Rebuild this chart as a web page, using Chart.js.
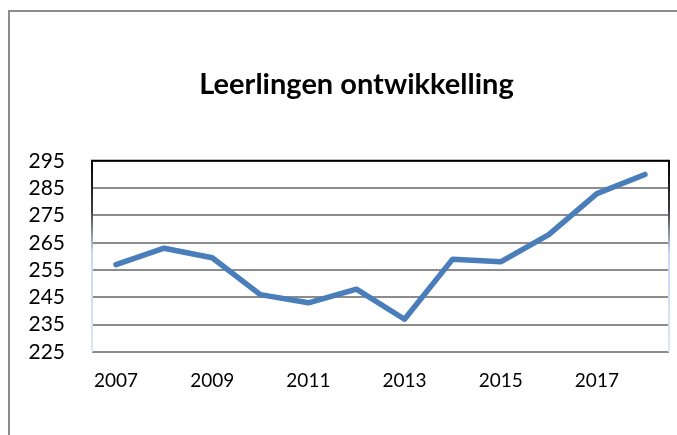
<!DOCTYPE html>
<html>
<head>
<meta charset="utf-8">
<script src="https://cdn.jsdelivr.net/npm/chart.js@4"></script>
<style>
    body { margin: 0; background: #fff; }
    #wrap { position: relative; width: 677px; height: 435px; }
    #frame { position: absolute; left: 8px; top: 10px; right: -10px; bottom: -10px;
             border-left: 2px solid #8c8c8c; border-top: 2px solid #8c8c8c; pointer-events: none; }
</style>
</head>
<body>
<div id="wrap">
    <canvas id="chart"></canvas>
    <div id="frame"></div>
</div>
<script>
// Chart data
const years = ["2007", "2008", "2009", "2010", "2011", "2012", "2013", "2014", "2015", "2016", "2017", "2018"];
const leerlingen = [257, 263, 259.5, 246, 243, 248, 237, 259, 258, 268, 283, 290];
const yMin = 225;
const yMax = 295;
const yStep = 10;

// Plot area border: black top, faded sides like the Excel original
const plotBorder = {
    id: "plotBorder",
    afterLayout(chart) {
        // title sits a bit right of the canvas centre in the original
        if (chart.titleBlock) chart.titleBlock.left += 44;
    },
    beforeDatasetsDraw(chart) {
        const { ctx, chartArea: a } = chart;
        ctx.save();
        ctx.lineWidth = 2;
        const grad = ctx.createLinearGradient(0, a.top, 0, a.bottom);
        grad.addColorStop(0, "#000000");
        grad.addColorStop(0.25, "#3a3a3a");
        grad.addColorStop(0.48, "#c6d9f1");
        grad.addColorStop(1, "#dce6f2");
        ctx.strokeStyle = grad;
        ctx.beginPath();
        ctx.moveTo(a.left, a.top);
        ctx.lineTo(a.left, a.bottom);
        ctx.moveTo(a.right, a.top);
        ctx.lineTo(a.right, a.bottom);
        ctx.stroke();
        ctx.strokeStyle = "#000000";
        ctx.beginPath();
        ctx.moveTo(a.left - 1, a.top);
        ctx.lineTo(a.right + 1, a.top);
        ctx.stroke();
        ctx.restore();
    }
};

const ctx = document.getElementById("chart").getContext("2d");
new Chart(ctx, {
    type: "line",
    data: {
        labels: years,
        datasets: [{
            label: "Leerlingen",
            data: leerlingen,
            borderColor: "#4a7ebb",
            borderWidth: 5.5,
            borderCapStyle: "round",
            borderJoinStyle: "round",
            pointRadius: 0,
            tension: 0,
            fill: false
        }]
    },
    options: {
        responsive: true,
        maintainAspectRatio: false,
        animation: false,
        layout: { padding: { left: 0, right: 8, top: 0, bottom: 0 } },
        plugins: {
            legend: { display: false },
            tooltip: { enabled: false },
            title: {
                display: true,
                text: "Leerlingen ontwikkelling",
                color: "#000",
                font: { family: "Lato", size: 29, weight: "bold" },
                padding: { top: 67, bottom: 59 }
            }
        },
        scales: {
            x: {
                offset: true,
                grid: { display: false, drawTicks: false },
                border: { display: false },
                ticks: {
                    autoSkip: false,
                    maxRotation: 0,
                    padding: 17,
                    color: "#000",
                    font: { family: "Lato", size: 19 },
                    callback: function(value, index) {
                        return index % 2 === 0 ? this.getLabelForValue(value) : "";
                    }
                },
                afterFit: function(scale) { scale.height = 83; }
            },
            y: {
                min: yMin,
                max: yMax,
                grid: { color: "#8c8c8c", lineWidth: 2, drawTicks: false },
                border: { display: false },
                ticks: {
                    stepSize: yStep,
                    autoSkip: false,
                    padding: 27,
                    color: "#000",
                    font: { family: "Lato", size: 21 }
                },
                afterFit: function(scale) { scale.width = 92; }
            }
        }
    },
    plugins: [plotBorder]
});
</script>
</body>
</html>
